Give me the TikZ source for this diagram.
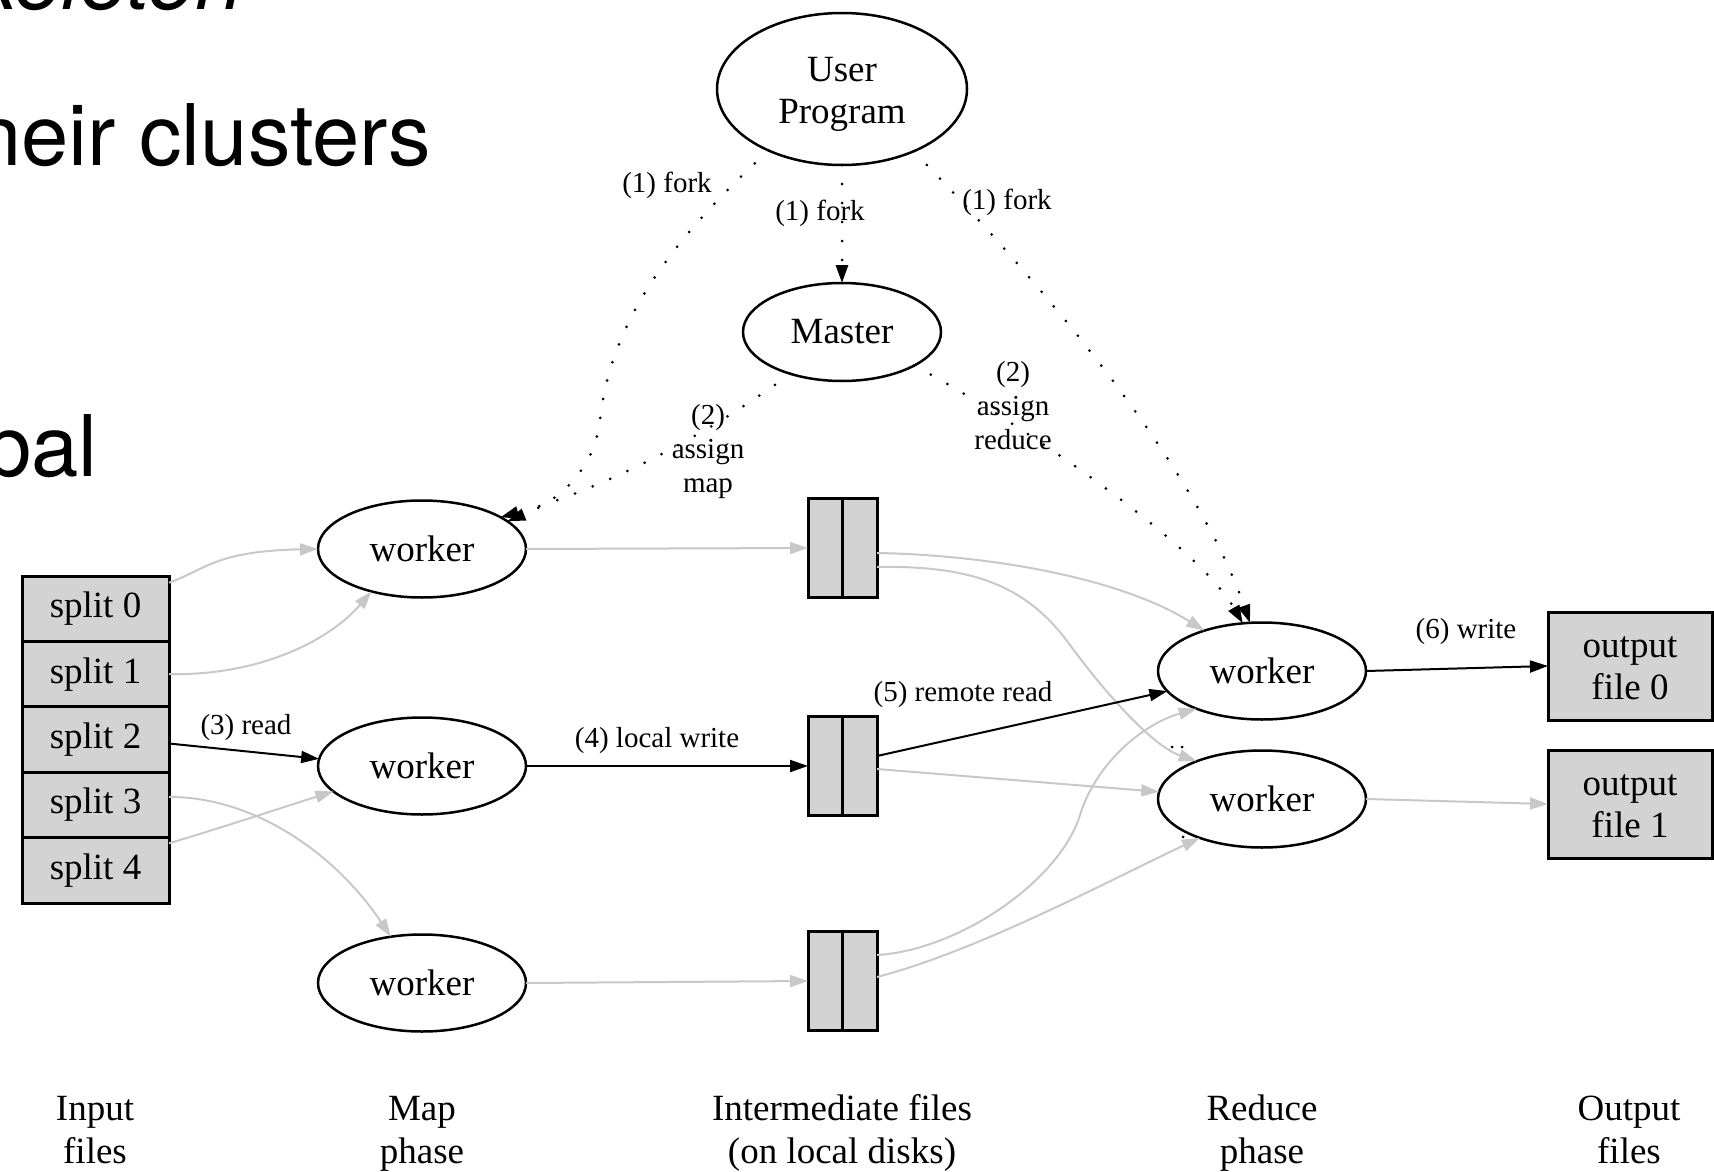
\documentclass[tikz,border=0pt]{standalone}
\usepackage{fontspec}
\setmainfont{Liberation Serif}
\newfontfamily\slidefont{TeX Gyre Heros}
\usetikzlibrary{arrows.meta,shapes.geometric,calc}
\definecolor{edgegray}{RGB}{200,200,200}
\definecolor{boxgray}{RGB}{211,211,211}

\begin{document}
\begin{tikzpicture}[x=1pt,y=-1pt,
  every node/.style={inner sep=0pt, outer sep=0pt},
  nodefont/.style={font=\fontsize{37}{42}\selectfont},
  lbl/.style={font=\fontsize{29}{34}\selectfont, align=center},
  slide/.style={anchor=base east, font=\slidefont\fontsize{85}{100}\selectfont},
  proc/.style={ellipse, draw=black, line width=2.5pt, nodefont, align=center},
  worker/.style={proc, minimum width=208pt, minimum height=97pt},
  splitbox/.style={rectangle, draw=black, fill=boxgray, line width=3pt,
    minimum width=147pt, minimum height=65.4pt, nodefont},
  interbox/.style={rectangle, draw=black, fill=boxgray, line width=3pt,
    minimum width=69pt, minimum height=99pt},
  outbox/.style={rectangle, draw=black, fill=boxgray, line width=3pt,
    minimum width=164pt, minimum height=108pt, nodefont, align=center},
  phase/.style={anchor=base, nodefont},
  tip/.style={-{Triangle[length=18pt,width=12pt]}},
  gedge/.style={draw=edgegray, line width=2pt, tip},
  bedge/.style={draw=black, line width=2pt, tip},
  ctrl/.style={draw=black, line width=3pt, line cap=round,
    dash pattern=on 0pt off 19pt, tip}
]
\useasboundingbox (0,0) rectangle (1714,1172);
\clip (0,0) rectangle (1714,1172);

% slide text running off the left edge
\node[slide, font=\slidefont\itshape\fontsize{85}{100}\selectfont] (sk) at (243,10) {keleton};
\node[slide] (cl) at (431,165) {heir clusters};
\node[slide] (gl) at (97.5,476) {bal};

% processes
\node[proc, minimum width=250pt, minimum height=152pt] (user) at (842,89) {\rule{0pt}{35pt}User\\Program};
\node[proc, minimum width=198pt, minimum height=98pt] (master) at (842,332) {Master};
\node[worker] (w1) at (422,549) {worker};
\node[worker] (w2) at (422,766) {worker};
\node[worker] (w3) at (422,983) {worker};
\node[worker] (r1) at (1262,671) {worker};
\node[worker] (r2) at (1262,799) {worker};

% input splits
\node[splitbox] (s0) at (95.5,608.7) {split 0};
\node[splitbox] (s1) at (95.5,674.1) {split 1};
\node[splitbox] (s2) at (95.5,739.5) {split 2};
\node[splitbox] (s3) at (95.5,804.9) {split 3};
\node[splitbox] (s4) at (95.5,870.3) {split 4};

% intermediate files, two partitions each
\node[interbox] (i1) at (842.5,548) {};
\node[interbox] (i2) at (842.5,766) {};
\node[interbox] (i3) at (842.5,981) {};
\foreach \b in {i1,i2,i3}
  \draw[line width=3pt] (\b.north) -- (\b.south);

% output files
\node[outbox] (o0) at (1630,666) {\rule{0pt}{26pt}output\\file 0};
\node[outbox] (o1) at (1630,804) {\rule{0pt}{26pt}output\\file 1};

% data flow (light)
\draw[gedge] ($(s0.east)+(0,-26)$) .. controls (205,570) and (215,551) .. (w1.west);
\draw[gedge] (s1.east) .. controls (260,676) and (330,640) .. (w1.220);
\draw[gedge] ($(s3.east)+(0,-8)$) .. controls (260,797) and (340,860) .. (w3.124);
\draw[gedge] ($(s4.east)+(0,-27)$) .. controls (230,825) and (290,805) .. (w2.196);
\draw[gedge] (w1.east) -- (i1.west);
\draw[gedge] (w3.east) -- (i3.west);
\draw[gedge] ($(i1.east)+(0,5)$) .. controls (990,555) and (1120,578) .. (r1.145);
\draw[gedge] ($(i1.east)+(0,19)$) .. controls (980,565) and (1030,590) .. (1070,645)
  .. controls (1100,686) and (1150,745) .. (r2.150);
\draw[gedge] ($(i2.east)+(0,3)$) -- (r2.176);
\draw[gedge] ($(i3.east)+(0,-26)$) .. controls (960,950) and (1060,880) .. (1080,815)
  .. controls (1095,766) and (1140,725) .. (r1.210);
\draw[gedge] ($(i3.east)+(0,-4)$) .. controls (980,950) and (1110,880) .. (r2.212);
\draw[gedge] (r2.east) -- (o1.west);

% data flow (highlighted)
\draw[bedge] ($(s2.east)+(0,4)$) -- (w2.176);
\draw[bedge] (w2.east) -- (i2.west);
\draw[bedge] ($(i2.east)+(0,-10)$) -- (r1.192);
\draw[bedge] (r1.east) -- (o0.west);

% control flow
\draw[ctrl] (user.south) -- (master.north);
\draw[ctrl] (user.220) .. controls (660,250) and (610,330) .. (600,420)
  .. controls (594,470) and (560,500) .. (w1.18);
\draw[ctrl] (user.319) .. controls (1010,250) and (1190,450) .. (r1.104);
\draw[ctrl] (master.219) .. controls (700,440) and (600,490) .. (w1.22);
\draw[ctrl] (master.335) .. controls (1000,410) and (1195,540) .. (r1.112);

% stray dots by the second reducer
\fill (1172,747) circle (1.5pt);
\fill (1182,747) circle (1.5pt);
\fill (1183,837) circle (1.5pt);

% edge labels
\node[lbl] (lf1) at (667,185) {(1) fork};
\node[lbl] (lf2) at (820,213) {(1) fork};
\node[lbl] (lf3) at (1007,202) {(1) fork};
\node[lbl] (lam) at (708,452) {(2)\\assign\\map};
\node[lbl] (lar) at (1013,406) {(2)\\assign\\reduce};
\node[lbl] (lrd) at (246,728) {(3) read};
\node[lbl] (llw) at (657,741) {(4) local write};
\node[lbl] (lrr) at (963,695) {(5) remote read};
\node[lbl] (lwr) at (1466,632) {(6) write};

% phase captions
\node[phase] (pa1) at (95,1120) {Input};
\node[phase] (pa2) at (95,1163) {files};
\node[phase] (pb1) at (422,1120) {Map};
\node[phase] (pb2) at (422,1163) {phase};
\node[phase] (pc1) at (842,1120) {Intermediate files};
\node[phase] (pc2) at (842,1163) {(on local disks)};
\node[phase] (pd1) at (1262,1120) {Reduce};
\node[phase] (pd2) at (1262,1163) {phase};
\node[phase] (pe1) at (1629,1120) {Output};
\node[phase] (pe2) at (1629,1163) {files};
\end{tikzpicture}
\end{document}
